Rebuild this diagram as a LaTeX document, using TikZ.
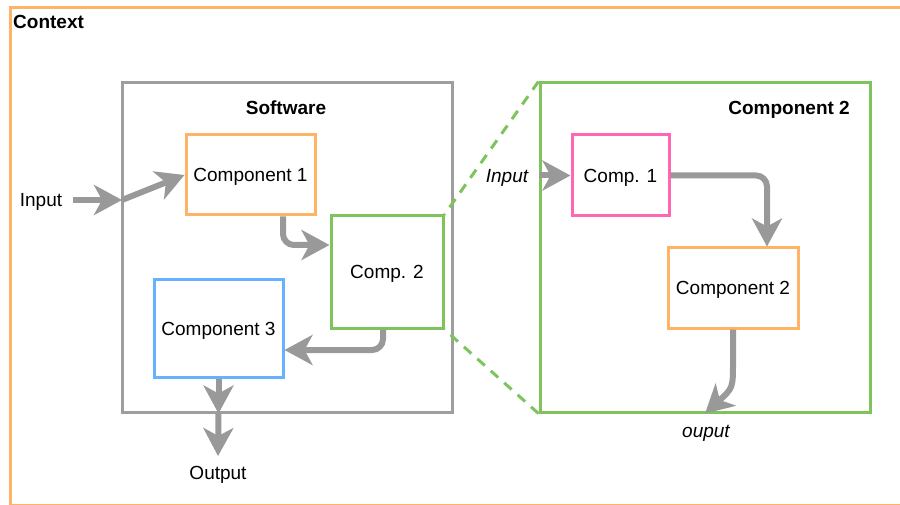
\documentclass[tikz,border=0pt]{standalone}
\usepackage{fontspec}
\setmainfont{Liberation Sans}
\usetikzlibrary{arrows.meta}
\definecolor{ctxorange}{HTML}{FFB366}
\definecolor{boxgray}{HTML}{9E9E9E}
\definecolor{arrowgray}{HTML}{999999}
\definecolor{boxgreen}{HTML}{7EC35B}
\definecolor{boxblue}{HTML}{66B2FF}
\definecolor{boxpink}{HTML}{FF66B3}
\tikzset{
  frame/.style={draw=#1, line width=3pt, fill=none, inner sep=0pt},
  block/.style={draw=#1, line width=3pt, fill=white, inner sep=0pt, align=center},
  flow/.style={draw=arrowgray, line width=6pt,
    -{Stealth[length=28pt, width=30pt, inset=8pt]}},
  elbow/.style={flow, rounded corners=11pt},
  zoomline/.style={draw=boxgreen, line width=3pt, dash pattern=on 10pt off 8pt},
  plain/.style={inner sep=0pt},
}
\begin{document}
\begin{tikzpicture}[x=1pt, y=-1pt, every node/.append style={font=\fontsize{19}{23}\selectfont, text depth=0pt}]
\useasboundingbox (0,0) rectangle (900,505);

% outer context frame
\node[frame=ctxorange, minimum width=895pt, minimum height=498pt, anchor=north west] (context) at (9,6) {};
\node[plain, anchor=west] (ctxlabel) at (13,22) {\fontsize{19}{23}\selectfont\bfseries Context};

% software system
\node[frame=boxgray, minimum width=330pt, minimum height=329pt] (software) at (287,247.5) {};
\node[plain] (swlabel) at (286,108) {\fontsize{19}{23}\selectfont\bfseries Software};

\node[block=ctxorange, minimum width=129pt, minimum height=80pt] (c1) at (250.5,175) {Component 1};
\node[block=boxgreen, minimum width=112pt, minimum height=112pt] (c2) at (387,272) {Comp. 2};
\node[block=boxblue, minimum width=129pt, minimum height=97pt] (c3) at (218.5,328.5) {Component 3};

\node[plain] (inlabel) at (41,200) {Input};
\node[plain] (outlabel) at (218,473) {Output};

% detail of Comp. 2
\node[frame=boxgreen, minimum width=330pt, minimum height=329pt] (detail) at (705,247.5) {};
\node[plain, anchor=east] (detlabel) at (850,108) {\fontsize{19}{23}\selectfont\bfseries Component 2};

\node[block=boxpink, minimum width=97pt, minimum height=81pt] (d1) at (620.5,175.5) {Comp. 1};
\node[block=ctxorange, minimum width=130pt, minimum height=80pt] (d2) at (733,288) {Component 2};

\node[plain] (dinlabel) at (507,176) {\itshape Input};
\node[plain] (doutlabel) at (706,431) {\itshape ouput};

% zoom lines
\draw[zoomline] (detail.north west) -- (c2.north east);
\draw[zoomline] (detail.south west) -- (c2.south east);

% connectors, left
\coordinate (inbegin) at (73,200);
\coordinate (inend) at (122,200);
\coordinate (outend) at (218,456);
\draw[flow] (inbegin) -- (inend);
\draw[flow] (inend) -- (c1.west);
\draw[elbow] ([xshift=32.5pt]c1.south) |- ([yshift=27pt]c2.west);
\draw[elbow] ([xshift=-4pt]c2.south) |- ([yshift=-21.5pt]c3.east);
\draw[flow] (c3.south) -- (c3.south |- software.south);
\draw[flow] (c3.south |- software.south) -- (outend);

% connectors, detail
\coordinate (dinbegin) at (detail.west |- d1.west);
\draw[flow] (dinbegin) -- (d1.west);
\draw[elbow] (d1.east) -| ([xshift=34pt]d2.north);
\coordinate (bend) at (733,362);
\draw[flow] (d2.south) -- (bend) .. controls (733,388) .. (detail.south);
\end{tikzpicture}
\end{document}
